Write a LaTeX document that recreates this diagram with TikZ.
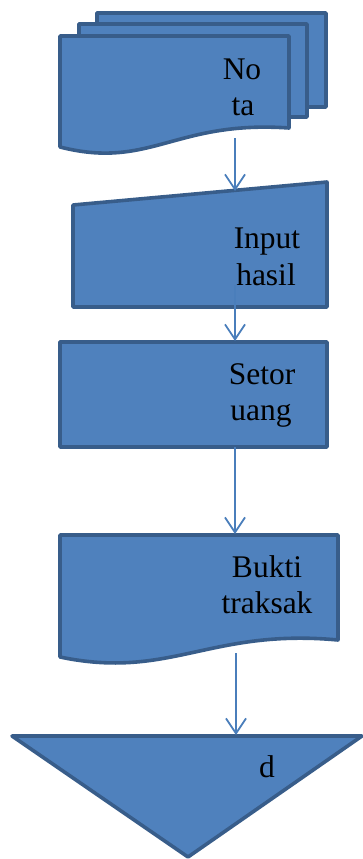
\documentclass[tikz,border=0pt]{standalone}
\usepackage{fontspec}
\setmainfont{Liberation Serif}
\usetikzlibrary{arrows.meta}
\definecolor{boxfill}{HTML}{4F81BD}
\definecolor{boxline}{HTML}{385D8A}
\definecolor{arrowc}{HTML}{4A7EBB}
\tikzset{
  shapebox/.style={fill=boxfill, draw=boxline, line width=3.6pt, line join=round},
  lbl/.style={font=\fontsize{31.5}{36}\selectfont, inner sep=0pt, anchor=base, text=black},
  conn/.style={draw=arrowc, line width=1.8pt, -{Straight Barb[length=15pt,width=20pt,line width=1.8pt]}}
}
\begin{document}
\begin{tikzpicture}[x=1pt,y=-1pt]
\useasboundingbox (0,0) rectangle (363,859);
% multi-document
\draw[shapebox] (97,13) rectangle (326,107);
\draw[shapebox] (79,24) rectangle (307,117);
\draw[shapebox] (60,36) -- (289,36) -- (289,128) .. controls (175,120) and (150,170) .. (60,147) -- cycle;
\node[lbl] (t1a) at (242,79) {No};
\node[lbl] (t1b) at (243,115) {ta};
\coordinate (d1out) at (235,138);
% manual input
\draw[shapebox] (73,205) -- (327,182) -- (327,307) -- (73,307) -- cycle;
\node[lbl] (t2a) at (267,248) {Input};
\node[lbl] (t2b) at (266,285) {hasil};
\coordinate (m1in) at (235,191);
\coordinate (m1out) at (235,285);
% process
\draw[shapebox] (60,342) rectangle (327,447);
\node[lbl] (t3a) at (262,384) {Setor};
\node[lbl] (t3b) at (261,420) {uang};
\coordinate (p1in) at (235,341);
\coordinate (p1out) at (235,447);
% document
\draw[shapebox] (60,535) -- (338,535) -- (338,640) .. controls (210,628) and (170,680) .. (60,657) -- cycle;
\node[lbl] (t4a) at (267,577) {Bukti};
\node[lbl] (t4b) at (267,613) {traksak};
\coordinate (d2in) at (235,534);
\coordinate (d2out) at (236,653);
% merge / offline storage
\draw[shapebox] (12,736) -- (362,736) -- (188,857) -- cycle;
\node[lbl] (t5) at (267,777) {d};
\coordinate (tin) at (236,735);
% connectors
\draw[conn] (d1out) -- (m1in);
\draw[conn] (m1out) -- (p1in);
\draw[conn] (p1out) -- (d2in);
\draw[conn] (d2out) -- (tin);
\end{tikzpicture}
\end{document}
